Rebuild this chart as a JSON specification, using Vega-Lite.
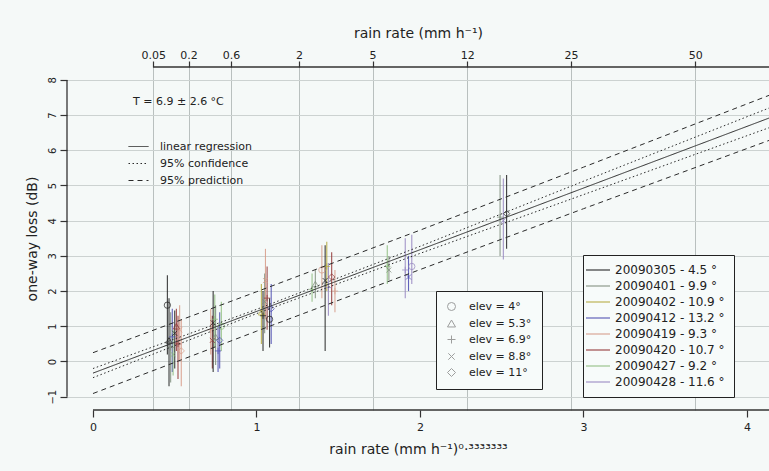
{
  "$schema": "https://vega.github.io/schema/vega-lite/v6.json",
  "width": 702,
  "height": 343,
  "autosize": {"type": "none"},
  "padding": {"left": 67, "top": 67, "right": 0, "bottom": 61},
  "background": "#f5f9f8",
  "config": {
    "font": "DejaVu Sans",
    "view": {"stroke": null},
    "axis": {"labelColor": "#222", "titleColor": "#222", "tickColor": "#333", "tickWidth": 1.2, "domain": false, "titleFontWeight": "normal", "labelOverlap": false},
    "legend": {"labelColor": "#222", "titleColor": "#222"}
  },
  "datasets": {
    "obs": [
      {"x": 0.455, "y": 1.6, "lo": 0.2, "hi": 2.45, "date": "20090305 - 4.5 °", "elev": "elev = 4°"},
      {"x": 0.465, "y": 0.6, "lo": -0.7, "hi": 1.8, "date": "20090305 - 4.5 °", "elev": "elev = 5.3°"},
      {"x": 0.475, "y": 0.4, "lo": -0.6, "hi": 1.4, "date": "20090401 - 9.9 °", "elev": "elev = 6.9°"},
      {"x": 0.485, "y": 0.7, "lo": -0.3, "hi": 1.5, "date": "20090412 - 13.2 °", "elev": "elev = 6.9°"},
      {"x": 0.49, "y": 0.2, "lo": -0.4, "hi": 0.9, "date": "20090427 - 9.2 °", "elev": "elev = 8.8°"},
      {"x": 0.50, "y": 0.8, "lo": -0.2, "hi": 1.45, "date": "20090305 - 4.5 °", "elev": "elev = 8.8°"},
      {"x": 0.51, "y": 1.0, "lo": 0.3, "hi": 1.5, "date": "20090420 - 10.7 °", "elev": "elev = 5.3°"},
      {"x": 0.52, "y": 0.5, "lo": -0.5, "hi": 1.3, "date": "20090420 - 10.7 °", "elev": "elev = 6.9°"},
      {"x": 0.53, "y": 0.9, "lo": 0.0, "hi": 1.6, "date": "20090419 - 9.3 °", "elev": "elev = 8.8°"},
      {"x": 0.54, "y": 0.3, "lo": -0.7, "hi": 1.2, "date": "20090419 - 9.3 °", "elev": "elev = 11°"},
      {"x": 0.72, "y": 0.9, "lo": 0.2, "hi": 1.5, "date": "20090419 - 9.3 °", "elev": "elev = 6.9°"},
      {"x": 0.73, "y": 0.6, "lo": -0.2, "hi": 1.3, "date": "20090420 - 10.7 °", "elev": "elev = 8.8°"},
      {"x": 0.735, "y": 1.1, "lo": -0.3, "hi": 2.0, "date": "20090305 - 4.5 °", "elev": "elev = 8.8°"},
      {"x": 0.745, "y": 1.2, "lo": 0.4, "hi": 1.9, "date": "20090427 - 9.2 °", "elev": "elev = 6.9°"},
      {"x": 0.75, "y": 0.7, "lo": -0.1, "hi": 1.6, "date": "20090401 - 9.9 °", "elev": "elev = 5.3°"},
      {"x": 0.765, "y": 0.3, "lo": -0.3, "hi": 1.0, "date": "20090412 - 13.2 °", "elev": "elev = 6.9°"},
      {"x": 0.775, "y": 0.6, "lo": -0.2, "hi": 1.4, "date": "20090412 - 13.2 °", "elev": "elev = 11°"},
      {"x": 0.785, "y": 1.0, "lo": 0.3, "hi": 1.7, "date": "20090427 - 9.2 °", "elev": "elev = 4°"},
      {"x": 1.03, "y": 1.4, "lo": 0.5, "hi": 2.2, "date": "20090402 - 10.9 °", "elev": "elev = 5.3°"},
      {"x": 1.04, "y": 1.3, "lo": 0.3, "hi": 2.0, "date": "20090305 - 4.5 °", "elev": "elev = 6.9°"},
      {"x": 1.05, "y": 1.7, "lo": 0.8, "hi": 2.5, "date": "20090401 - 9.9 °", "elev": "elev = 8.8°"},
      {"x": 1.055, "y": 2.3, "lo": 1.2, "hi": 3.2, "date": "20090419 - 9.3 °", "elev": "elev = 8.8°"},
      {"x": 1.065, "y": 1.8, "lo": 0.9, "hi": 2.7, "date": "20090420 - 10.7 °", "elev": "elev = 6.9°"},
      {"x": 1.08, "y": 1.2, "lo": 0.4, "hi": 1.8, "date": "20090305 - 4.5 °", "elev": "elev = 4°"},
      {"x": 1.09, "y": 1.5, "lo": 0.5, "hi": 2.2, "date": "20090412 - 13.2 °", "elev": "elev = 11°"},
      {"x": 1.34, "y": 2.05, "lo": 1.7, "hi": 2.5, "date": "20090427 - 9.2 °", "elev": "elev = 6.9°"},
      {"x": 1.36, "y": 2.2, "lo": 1.8, "hi": 2.6, "date": "20090401 - 9.9 °", "elev": "elev = 5.3°"},
      {"x": 1.40, "y": 2.6, "lo": 1.8, "hi": 3.3, "date": "20090419 - 9.3 °", "elev": "elev = 4°"},
      {"x": 1.42, "y": 2.3, "lo": 0.3, "hi": 3.3, "date": "20090305 - 4.5 °", "elev": "elev = 8.8°"},
      {"x": 1.43, "y": 2.7, "lo": 2.0, "hi": 3.4, "date": "20090402 - 10.9 °", "elev": "elev = 6.9°"},
      {"x": 1.44, "y": 2.1, "lo": 1.3, "hi": 2.8, "date": "20090428 - 11.6 °", "elev": "elev = 6.9°"},
      {"x": 1.46, "y": 2.4, "lo": 1.6, "hi": 3.1, "date": "20090420 - 10.7 °", "elev": "elev = 11°"},
      {"x": 1.48, "y": 2.0, "lo": 1.4, "hi": 2.6, "date": "20090419 - 9.3 °", "elev": "elev = 6.9°"},
      {"x": 1.80, "y": 2.7, "lo": 2.2, "hi": 3.3, "date": "20090427 - 9.2 °", "elev": "elev = 6.9°"},
      {"x": 1.81, "y": 2.6, "lo": 2.3, "hi": 3.0, "date": "20090401 - 9.9 °", "elev": "elev = 8.8°"},
      {"x": 1.91, "y": 2.6, "lo": 1.8, "hi": 3.5, "date": "20090428 - 11.6 °", "elev": "elev = 6.9°"},
      {"x": 1.93, "y": 2.4, "lo": 2.0, "hi": 3.0, "date": "20090412 - 13.2 °", "elev": "elev = 8.8°"},
      {"x": 1.95, "y": 2.7, "lo": 2.2, "hi": 3.6, "date": "20090428 - 11.6 °", "elev": "elev = 4°"},
      {"x": 2.49, "y": 4.1, "lo": 3.0, "hi": 5.3, "date": "20090401 - 9.9 °", "elev": "elev = 6.9°"},
      {"x": 2.51, "y": 4.0, "lo": 2.9, "hi": 5.2, "date": "20090428 - 11.6 °", "elev": "elev = 8.8°"},
      {"x": 2.53, "y": 4.2, "lo": 3.2, "hi": 5.3, "date": "20090305 - 4.5 °", "elev": "elev = 11°"}
    ],
    "fit": [
      {"band": "linear regression", "part": "mid", "x": 0, "y": -0.33},
      {"band": "linear regression", "part": "mid", "x": 4.135, "y": 6.915},
      {"band": "95% confidence", "part": "upper", "x": 0, "y": -0.20},
      {"band": "95% confidence", "part": "upper", "x": 1, "y": 1.48},
      {"band": "95% confidence", "part": "upper", "x": 2, "y": 3.27},
      {"band": "95% confidence", "part": "upper", "x": 3, "y": 5.12},
      {"band": "95% confidence", "part": "upper", "x": 4.135, "y": 7.20},
      {"band": "95% confidence", "part": "lower", "x": 0, "y": -0.46},
      {"band": "95% confidence", "part": "lower", "x": 1, "y": 1.36},
      {"band": "95% confidence", "part": "lower", "x": 2, "y": 3.07},
      {"band": "95% confidence", "part": "lower", "x": 3, "y": 4.74},
      {"band": "95% confidence", "part": "lower", "x": 4.135, "y": 6.64},
      {"band": "95% prediction", "part": "upper", "x": 0, "y": 0.25},
      {"band": "95% prediction", "part": "upper", "x": 1, "y": 1.98},
      {"band": "95% prediction", "part": "upper", "x": 2, "y": 3.73},
      {"band": "95% prediction", "part": "upper", "x": 3, "y": 5.52},
      {"band": "95% prediction", "part": "upper", "x": 4.135, "y": 7.56},
      {"band": "95% prediction", "part": "lower", "x": 0, "y": -0.91},
      {"band": "95% prediction", "part": "lower", "x": 1, "y": 0.86},
      {"band": "95% prediction", "part": "lower", "x": 2, "y": 2.61},
      {"band": "95% prediction", "part": "lower", "x": 3, "y": 4.34},
      {"band": "95% prediction", "part": "lower", "x": 4.135, "y": 6.28}
    ]
  },
  "resolve": {"axis": {"x": "independent", "y": "independent"}, "scale": {"x": "shared", "y": "shared"}},
  "layer": [
    {
      "data": {"name": "obs"},
      "mark": {"type": "rule", "strokeWidth": 1.1, "opacity": 0.85},
      "encoding": {
        "x": {
          "field": "x", "type": "quantitative",
          "scale": {"domain": [-0.159, 4.135], "nice": false, "zero": false},
          "axis": {
            "orient": "bottom", "values": [0, 1, 2, 3, 4], "format": "d", "grid": false,
            "tickSize": 7, "labelPadding": 4, "labelFontSize": 11,
            "title": "rain rate (mm h⁻¹)⁰·³³³³³³³", "titleFontSize": 14, "titlePadding": 10
          }
        },
        "y": {
          "field": "lo", "type": "quantitative",
          "scale": {"domain": [-1.378, 8.366], "nice": false, "zero": false},
          "axis": {
            "orient": "left",
            "values": [-1, 0, 1, 2, 3, 4, 5, 6, 7, 8], "grid": true, "gridColor": "#ccd2d1", "gridWidth": 1,
            "tickSize": 7, "labelPadding": 3, "labelFontSize": 10, "labelAngle": -90,
            "labelAlign": "center", "labelBaseline": "bottom", "labelOverlap": false,
            "title": "one-way loss (dB)", "titleFontSize": 14, "titlePadding": 8
          }
        },
        "y2": {"field": "hi"},
        "color": {
          "field": "date", "type": "nominal",
          "scale": {
            "domain": ["20090305 - 4.5 °", "20090401 - 9.9 °", "20090402 - 10.9 °", "20090412 - 13.2 °", "20090419 - 9.3 °", "20090420 - 10.7 °", "20090427 - 9.2 °", "20090428 - 11.6 °"],
            "range": ["#1a1a1a", "#7d8c7a", "#b3a83a", "#4848b0", "#d69a86", "#8e2f2f", "#8cbc7c", "#9484c0"]
          },
          "legend": {
            "title": null, "orient": "none", "legendX": 516, "legendY": 188,
            "symbolType": "M-2.4,0L2.4,0", "symbolSize": 100, "symbolStrokeWidth": 1.2,
            "labelFontSize": 12, "labelOffset": 11, "rowPadding": 4, "padding": 9,
            "strokeColor": "#222", "fillColor": "#f7fbfa"
          }
        }
      }
    },
    {
      "data": {"name": "obs"},
      "mark": {"type": "point", "filled": false, "strokeWidth": 1, "size": 40},
      "encoding": {
        "x": {"field": "x", "type": "quantitative", "axis": null},
        "y": {"field": "y", "type": "quantitative", "axis": null},
        "color": {"field": "date", "type": "nominal"},
        "shape": {
          "field": "elev", "type": "nominal",
          "scale": {
            "domain": ["elev = 4°", "elev = 5.3°", "elev = 6.9°", "elev = 8.8°", "elev = 11°"],
            "range": ["circle", "triangle-up", "M-1,0L1,0M0,-1L0,1", "M-0.8,-0.8L0.8,0.8M-0.8,0.8L0.8,-0.8", "diamond"]
          },
          "legend": {
            "title": null, "orient": "none", "legendX": 369, "legendY": 224,
            "symbolSize": 64, "symbolStrokeColor": "#777", "symbolFillColor": "transparent", "symbolStrokeWidth": 1,
            "labelFontSize": 11, "labelOffset": 12, "rowPadding": 4, "padding": 10,
            "strokeColor": "#222", "fillColor": "#f7fbfa"
          }
        }
      }
    },
    {
      "data": {"name": "fit"},
      "mark": {"type": "line", "color": "#2a2a2a", "strokeWidth": 1},
      "encoding": {
        "x": {"field": "x", "type": "quantitative", "axis": null},
        "y": {"field": "y", "type": "quantitative", "axis": null},
        "detail": {"field": "part"},
        "strokeDash": {
          "field": "band", "type": "nominal",
          "scale": {"domain": ["linear regression", "95% confidence", "95% prediction"], "range": [[1, 0], [1.5, 2.5], [5, 4]]},
          "legend": {
            "title": "T = 6.9 ± 2.6 °C", "titleFontSize": 11, "titleFontWeight": "normal", "titlePadding": 34,
            "orient": "none", "legendX": 66, "legendY": 29,
            "symbolType": "M-2,0L2,0", "symbolSize": 100, "symbolStrokeColor": "#2a2a2a", "symbolStrokeWidth": 1,
            "labelFontSize": 11, "labelOffset": 16, "rowPadding": 5, "padding": 0
          }
        }
      }
    },
    {
      "data": {"values": [{}]},
      "mark": {"type": "rule", "color": "#333", "strokeWidth": 1.3},
      "encoding": {
        "x": {"datum": -0.159, "type": "quantitative", "axis": null},
        "y": {"datum": -1, "type": "quantitative", "axis": null},
        "y2": {"datum": 8}
      }
    },
    {
      "data": {"values": [{}]},
      "mark": {"type": "rule", "color": "#333", "strokeWidth": 1.3},
      "encoding": {
        "x": {"datum": 0, "type": "quantitative", "axis": null},
        "x2": {"datum": 4.135},
        "y": {"datum": -1.378, "type": "quantitative", "axis": null}
      }
    },
    {
      "data": {"values": [{}]},
      "mark": {"type": "rule", "color": "#333", "strokeWidth": 1.3},
      "encoding": {
        "x": {
          "datum": 0.368403, "type": "quantitative",
          "axis": {
            "orient": "top",
            "values": [0.368403, 0.584804, 0.843433, 1.259921, 1.709976, 2.289428, 2.924018, 3.684031],
            "labelExpr": "format(pow(datum.value, 3), '.2~r')",
            "grid": true, "gridColor": "#b9c0bf", "gridWidth": 1,
            "tickSize": 6, "labelPadding": 1, "labelFontSize": 11,
            "title": "rain rate (mm h⁻¹)", "titleFontSize": 14, "titlePadding": 9
          }
        },
        "x2": {"datum": 4.135},
        "y": {"datum": 8.366, "type": "quantitative", "axis": null}
      }
    }
  ]
}
